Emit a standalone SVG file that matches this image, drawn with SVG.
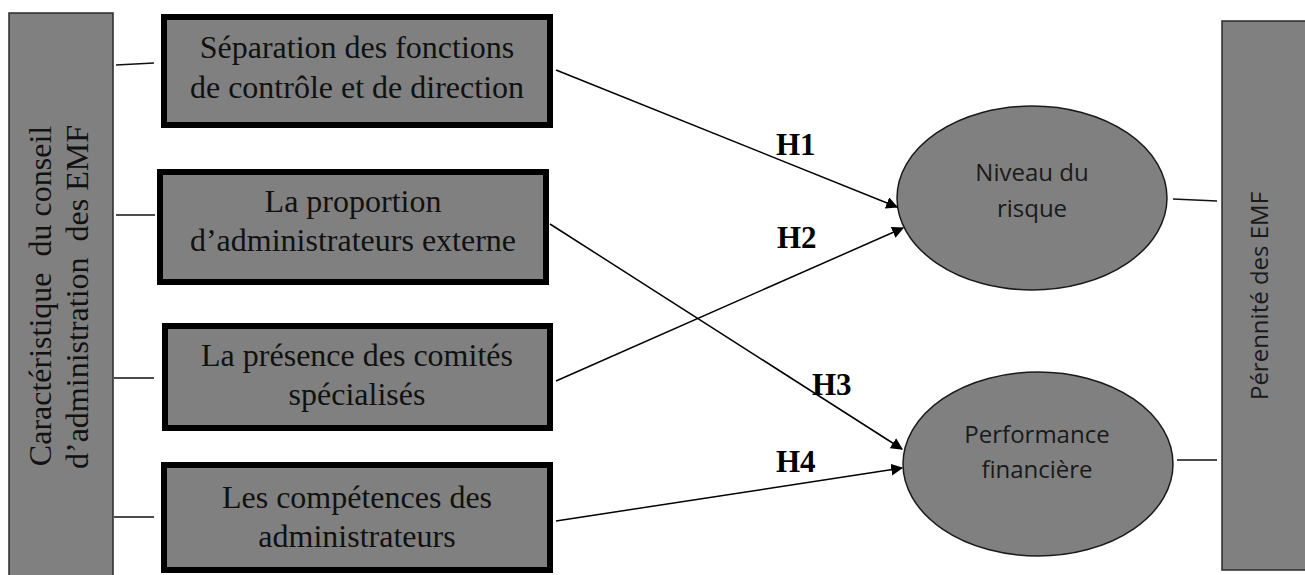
<svg xmlns="http://www.w3.org/2000/svg" width="1305" height="575" viewBox="0 0 1305 575">
<style>
.side{fill:#808080;stroke:#2a2a2a;stroke-width:1.5}
.box{fill:#808080;stroke:#000;stroke-width:6}
.ell{fill:#808080;stroke:#1a1a1a;stroke-width:1.5}
.serif{font-family:"Liberation Serif","Times New Roman",serif;font-size:32px;fill:#111;text-anchor:middle}
.pre{white-space:pre}
.sans{font-family:"Open Sans","Liberation Sans",sans-serif;font-size:24px;fill:#1a1a1a;text-anchor:middle}
.hl{font-family:"Liberation Serif","Times New Roman",serif;font-size:31px;font-weight:bold;fill:#000}
.ln{stroke:#111;stroke-width:1.5;fill:none}
.arr{stroke:#000;stroke-width:1.5;fill:none;marker-end:url(#ah)}
</style>
<defs>
<marker id="ah" viewBox="0 0 10 10" refX="9" refY="5" markerWidth="8" markerHeight="8" orient="auto" markerUnits="strokeWidth">
<path d="M0,0 L10,5 L0,10 z" fill="#000"/>
</marker>
</defs>
<rect width="1305" height="575" fill="#fff"/>

<g id="left-panel">
<rect class="side" x="9" y="13" width="104" height="570"/>
<text class="serif pre" transform="translate(51,296) rotate(-90)">Caractéristique  du conseil</text>
<text class="serif pre" transform="translate(88,297) rotate(-90)">d’administration  des EMF</text>
</g>

<g id="node-separation">
<rect class="box" x="164" y="17" width="386" height="108"/>
<text class="serif" x="357" y="58">Séparation des fonctions</text>
<text class="serif" x="357" y="98">de contrôle et de direction</text>
</g>

<g id="node-proportion">
<rect class="box" x="160" y="172" width="386" height="110"/>
<text class="serif" x="353" y="212">La proportion</text>
<text class="serif" x="353" y="251">d’administrateurs externe</text>
</g>

<g id="node-comites">
<rect class="box" x="165" y="326" width="385" height="102"/>
<text class="serif" x="357" y="366">La présence des comités</text>
<text class="serif" x="357" y="405">spécialisés</text>
</g>

<g id="node-competences">
<rect class="box" x="164" y="465" width="386" height="105"/>
<text class="serif" x="357" y="508">Les compétences des</text>
<text class="serif" x="357" y="547">administrateurs</text>
</g>

<g id="node-risque">
<ellipse class="ell" cx="1032" cy="198" rx="135" ry="92"/>
<text class="sans" x="1032" y="181">Niveau du</text>
<text class="sans" x="1032" y="217">risque</text>
</g>

<g id="node-performance">
<ellipse class="ell" cx="1038" cy="464" rx="135" ry="92"/>
<text class="sans" x="1037" y="443">Performance</text>
<text class="sans" x="1037" y="478">financière</text>
</g>

<g id="right-panel">
<rect class="side" x="1222" y="21" width="90" height="549"/>
<text class="sans" transform="translate(1268,296) rotate(-90)">Pérennité des EMF</text>
</g>

<g id="connectors">
<line class="ln" x1="116" y1="65" x2="154" y2="63"/>
<line class="ln" x1="116" y1="215" x2="155" y2="215"/>
<line class="ln" x1="114" y1="378" x2="154" y2="378"/>
<line class="ln" x1="114" y1="517" x2="154" y2="517"/>
<line class="ln" x1="1173" y1="199" x2="1217" y2="201"/>
<line class="ln" x1="1177" y1="460" x2="1217" y2="460"/>
<line class="arr" x1="556" y1="70" x2="897" y2="207"/>
<line class="arr" x1="556" y1="381" x2="903" y2="228"/>
<line class="arr" x1="550" y1="224" x2="902" y2="449"/>
<line class="arr" x1="556" y1="521" x2="902" y2="468"/>
<text class="hl" x="776" y="155">H1</text>
<text class="hl" x="777" y="248">H2</text>
<text class="hl" x="812" y="395">H3</text>
<text class="hl" x="776" y="472">H4</text>
</g>
</svg>
